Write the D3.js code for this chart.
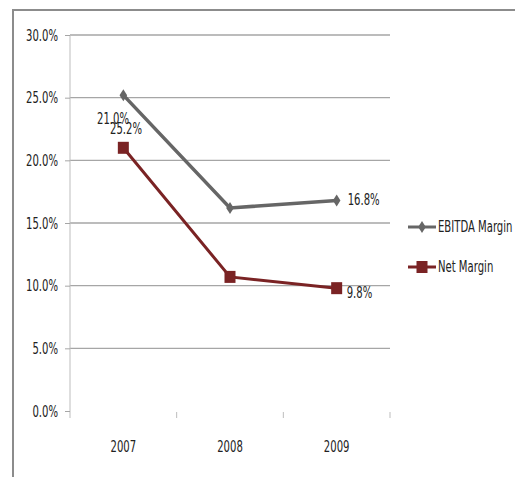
<!DOCTYPE html>
<meta charset="utf-8">
<style>
  body { margin: 0; background: #fff; }
  text { font-family: "DejaVu Sans", sans-serif; font-size: 16px; fill: #222; }
  .grid line { stroke: #a6a6a6; stroke-width: 1.3; }
</style>
<svg width="515" height="477"></svg>
<script src="https://cdn.jsdelivr.net/npm/d3@7"></script>
<script>
var years = ["2007", "2008", "2009"];
var ebitda = [25.2, 16.2, 16.8];
var netMargin = [21.0, 10.7, 9.8];
var yTicks = [0, 5, 10, 15, 20, 25, 30];
var seriesNames = ["EBITDA Margin", "Net Margin"];
// point labels as they appear on the chart (2007 labels are swapped in the original)
var ebitdaLabels = ["25.2%", "", "16.8%"];
var netLabels = ["21.0%", "", "9.8%"];

var svg = d3.select("svg");

// outer frame (cropped)
svg.append("path")
    .attr("d", "M13,477V10H515")
    .attr("fill", "none")
    .attr("stroke", "#8c8c8c")
    .attr("stroke-width", 2);

var x = d3.scaleBand().domain(years).range([70, 390]);
var y = d3.scaleLinear().domain([0, 30]).range([411, 35]);

// gridlines
svg.append("g").attr("class", "grid")
  .selectAll("line")
  .data(yTicks.slice(1))
  .enter().append("line")
    .attr("x1", 70).attr("x2", 390)
    .attr("y1", function(d) { return y(d); })
    .attr("y2", function(d) { return y(d); });

// y axis
var yAxis = svg.append("g")
    .attr("transform", "translate(70,0)")
    .call(d3.axisLeft(y).tickValues(yTicks).tickSize(5).tickPadding(7)
      .tickFormat(function(d) { return d.toFixed(1) + "%"; }));
yAxis.attr("font-family", null).attr("font-size", null);
yAxis.select(".domain").attr("stroke", "#bdbdbd").attr("d", "M0,35V418");
yAxis.selectAll(".tick line").attr("stroke", "#a6a6a6");
yAxis.selectAll("text").attr("fill", "#222");

// x axis ticks (no baseline)
var xEdges = years.map(function(d) { return x(d) + x.bandwidth(); });
svg.append("g").selectAll("line")
  .data(xEdges)
  .enter().append("line")
    .attr("x1", function(d) { return d; }).attr("x2", function(d) { return d; })
    .attr("y1", 412).attr("y2", 418)
    .attr("stroke", "#bdbdbd");

svg.append("g").selectAll("text")
  .data(years)
  .enter().append("text")
    .attr("x", function(d) { return x(d) + x.bandwidth() / 2; })
    .attr("y", 452)
    .attr("text-anchor", "middle")
    .text(function(d) { return d; });

var cx = function(d, i) { return x(years[i]) + x.bandwidth() / 2; };
var line = d3.line().x(function(d, i) { return cx(d, i); }).y(function(d) { return y(d); });

var ebitdaColor = "#666666", netColor = "#7a2324";

svg.append("path").datum(ebitda)
    .attr("d", line).attr("fill", "none")
    .attr("stroke", ebitdaColor).attr("stroke-width", 3.5);
svg.append("path").datum(netMargin)
    .attr("d", line).attr("fill", "none")
    .attr("stroke", netColor).attr("stroke-width", 3);

var diamond = "M0,-6L3.8,0L0,6L-3.8,0Z";
svg.append("g").selectAll("path")
  .data(ebitda)
  .enter().append("path")
    .attr("d", diamond)
    .attr("transform", function(d, i) { return "translate(" + cx(d, i) + "," + y(d) + ")"; })
    .attr("fill", ebitdaColor);

svg.append("g").selectAll("rect")
  .data(netMargin)
  .enter().append("rect")
    .attr("x", function(d, i) { return cx(d, i) - 5.5; })
    .attr("y", function(d) { return y(d) - 6; })
    .attr("width", 11).attr("height", 12)
    .attr("fill", netColor);

// data labels
svg.append("text").attr("x", 97).attr("y", 124).text(netLabels[0]);
svg.append("text").attr("x", 110).attr("y", 134).text(ebitdaLabels[0]);
svg.append("text").attr("x", cx(0, 2) + 11).attr("y", y(ebitda[2]) + 5).text(ebitdaLabels[2]);
svg.append("text").attr("x", cx(0, 2) + 10).attr("y", y(netMargin[2]) + 10).text(netLabels[2]);

// legend
var legend = svg.append("g").attr("transform", "translate(408,227)");
[ebitdaColor, netColor].forEach(function(c, i) {
  var g = legend.append("g").attr("transform", "translate(0," + i * 40 + ")");
  g.append("line").attr("x1", 0).attr("x2", 28).attr("stroke", c).attr("stroke-width", 3);
  if (i === 0) g.append("path").attr("d", diamond).attr("transform", "translate(14,0)").attr("fill", c);
  else g.append("rect").attr("x", 8.5).attr("y", -6).attr("width", 11).attr("height", 12).attr("fill", c);
  g.append("text").attr("x", 30).attr("y", 5).text(seriesNames[i]);
});

// narrow all text horizontally (original uses a condensed face)
var sx = 0.63;
svg.selectAll("text").each(function() {
  var t = d3.select(this);
  t.attr("x", (+t.attr("x") || 0) / sx).attr("transform", "scale(" + sx + ",1)");
});
</script>
